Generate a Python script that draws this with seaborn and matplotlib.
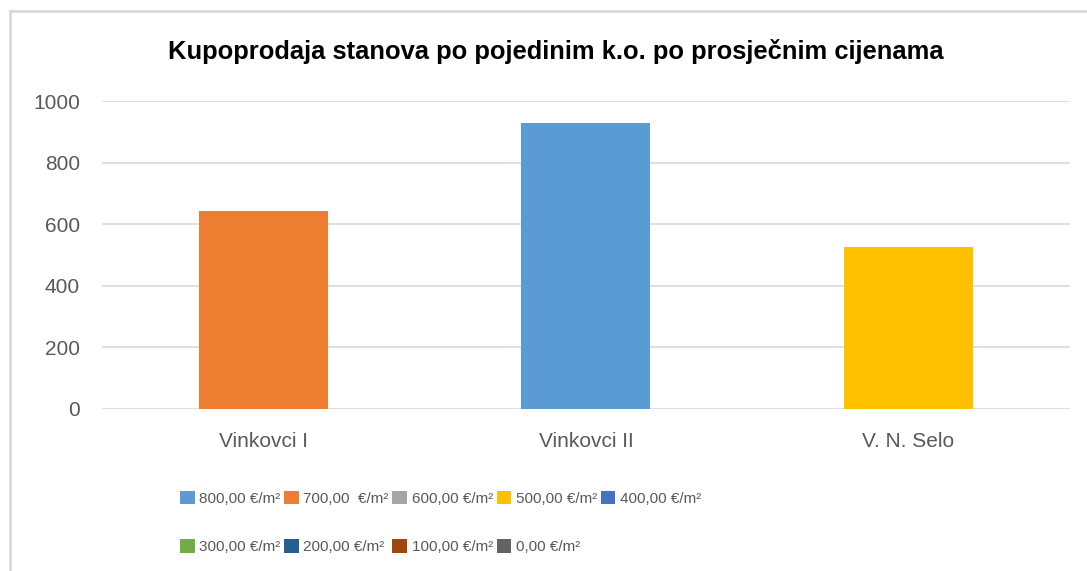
import matplotlib
matplotlib.use("Agg")
import matplotlib.pyplot as plt
from matplotlib.patches import Patch
from matplotlib.lines import Line2D
import pandas as pd
import seaborn as sns

# data
places = ["Vinkovci I", "Vinkovci II", "V. N. Selo"]
prices = [643, 928, 526]
price_class = ["700,00  €/m²", "800,00 €/m²", "500,00 €/m²"]

legend_labels = ["800,00 €/m²", "700,00  €/m²", "600,00 €/m²", "500,00 €/m²",
                 "400,00 €/m²", "300,00 €/m²", "200,00 €/m²", "100,00 €/m²",
                 "0,00 €/m²"]
legend_colors = ["#5B9BD5", "#ED7D31", "#A5A5A5", "#FFC000", "#4472C4",
                 "#70AD47", "#255E91", "#9E480E", "#636363"]

sns.set_theme(style="white")
plt.rcParams["font.family"] = ["Liberation Sans", "DejaVu Sans"]

df = pd.DataFrame({"place": places, "price": prices, "cls": price_class})
palette = dict(zip(legend_labels, legend_colors))

fig = plt.figure(figsize=(10.87, 5.71), dpi=100)
ax = fig.add_axes([0.094, 0.284, 0.890, 0.539])

sns.barplot(data=df, x="place", y="price", hue="cls", palette=palette,
            dodge=False, width=0.40, saturation=1, linewidth=0,
            legend=False, ax=ax, zorder=3)

ax.set_ylim(0, 1000)
ax.set_yticks([0, 200, 400, 600, 800, 1000])
ax.yaxis.grid(True, color="#D9D9D9", linewidth=1.2, zorder=0)
ax.set_axisbelow(True)
for s in ax.spines.values():
    s.set_visible(False)
ax.set_xlabel("")
ax.set_ylabel("")
ax.tick_params(axis="both", length=0, labelsize=15, colors="#595959")
ax.tick_params(axis="x", pad=17)
ax.tick_params(axis="y", pad=16)

fig.text(0.511, 0.910, "Kupoprodaja stanova po pojedinim k.o. po prosječnim cijenama",
         ha="center", va="center", fontsize=18.4, fontweight="bold", color="black")

# legend in row order (matplotlib fills columns first)
order = [0, 5, 1, 6, 2, 7, 3, 8, 4]
handles = [Patch(facecolor=legend_colors[i], edgecolor="none") for i in order]
labels = [legend_labels[i] for i in order]
leg = fig.legend(handles, labels, ncol=5, loc="upper left",
                 bbox_to_anchor=(0.160, 0.151), frameon=False,
                 fontsize=11, labelcolor="#595959", handlelength=0.95,
                 handleheight=0.95, handletextpad=0.3, columnspacing=0.25,
                 labelspacing=2.2, borderaxespad=0)

# chart frame (left and top edges visible)
fig.add_artist(Line2D([0.0092, 0.0092], [0, 0.981], color="#D9D9D9", linewidth=2,
                      transform=fig.transFigure))
fig.add_artist(Line2D([0.0092, 1.0], [0.981, 0.981], color="#D9D9D9", linewidth=2,
                      transform=fig.transFigure))

fig.savefig("out.png", dpi=100)
